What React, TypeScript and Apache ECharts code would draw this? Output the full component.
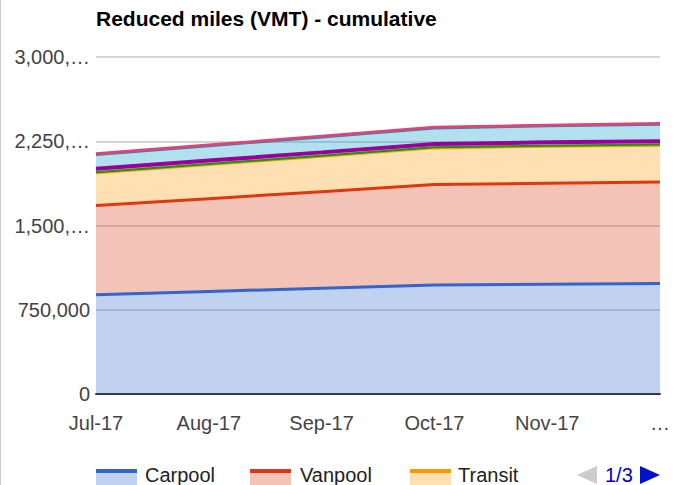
import React, { useEffect, useRef } from "react";
import * as echarts from "echarts";

const categories = ["Jul-17", "Aug-17", "Sep-17", "Oct-17", "Nov-17", "Dec-17"];
const xTickLabels = ["Jul-17", "Aug-17", "Sep-17", "Oct-17", "Nov-17", "…"];
const yTickLabels = ["0", "750,000", "1,500,…", "2,250,…", "3,000,…"];

const seriesNames = ["Carpool", "Vanpool", "Transit", "Bike", "Walk", "Telework", "Compressed"];
const carpool = [884000, 913000, 942000, 971000, 978000, 983000];
const vanpool = [793000, 826000, 859000, 893000, 899000, 904000];
const transit = [293000, 304000, 315000, 327000, 328000, 328000];
const bike = [5000, 5000, 5000, 5000, 5000, 5000];
const walk = [30000, 30000, 30000, 30000, 30000, 30000];
const telework = [127000, 132000, 137000, 142000, 147000, 152000];
const compressed = [6000, 6000, 6000, 6000, 6000, 6000];
const seriesData = [carpool, vanpool, transit, bike, walk, telework, compressed];
const colors = ["#3366cc", "#dc3912", "#ff9900", "#109618", "#990099", "#0099c6", "#dd4477"];
const lineWidths = [3, 3, 3, 2, 4, 3, 3];

const FONT = "'Liberation Sans', Arial, sans-serif";

export default function App() {
  const ref = useRef<HTMLDivElement>(null);
  useEffect(() => {
    if (!ref.current) return;
    const chart = echarts.init(ref.current, undefined, { renderer: "svg" });
    const legendX = [96, 250, 410];
    const legendTextX = [145, 300, 458];
    const legendGraphics: any[] = [];
    for (let i = 0; i < 3; i++) {
      legendGraphics.push({
        type: "rect",
        shape: { x: legendX[i], y: 472, width: 41, height: 14 },
        style: { fill: colors[i], opacity: 0.3 },
      });
      legendGraphics.push({
        type: "rect",
        shape: { x: legendX[i], y: 469, width: 41, height: 4 },
        style: { fill: colors[i] },
      });
      legendGraphics.push({
        type: "text",
        x: legendTextX[i],
        y: 475,
        style: {
          text: seriesNames[i],
          fill: "#222",
          font: `20px ${FONT}`,
          verticalAlign: "middle",
        },
      });
    }
    legendGraphics.push({
      type: "polygon",
      shape: { points: [[577, 475], [597, 466], [597, 484]] },
      style: { fill: "#cccccc" },
    });
    legendGraphics.push({
      type: "text",
      x: 605,
      y: 475,
      style: {
        text: "1/3",
        fill: "#0000cc",
        font: `20px ${FONT}`,
        verticalAlign: "middle",
      },
    });
    legendGraphics.push({
      type: "polygon",
      shape: { points: [[640, 466], [640, 484], [660, 475]] },
      style: { fill: "#0011cc" },
    });
    legendGraphics.push({
      type: "rect",
      shape: { x: 0, y: 0, width: 1, height: 485 },
      style: { fill: "#cccccc" },
    });

    chart.setOption({
      animation: false,
      color: colors,
      title: {
        text: "Reduced miles (VMT) - cumulative",
        left: 96,
        top: 8,
        padding: 0,
        textStyle: { fontFamily: FONT, fontSize: 21, fontWeight: "bold", color: "#000" },
      },
      grid: { left: 96, right: 22, top: 57, bottom: 91, containLabel: false },
      xAxis: {
        type: "category",
        data: categories,
        boundaryGap: false,
        axisTick: { show: false },
        axisLine: { lineStyle: { color: "#333", width: 2 } },
        axisLabel: {
          interval: 0,
          color: "#444",
          fontSize: 20,
          fontFamily: FONT,
          margin: 19,
          formatter: (_v: string, i: number) => xTickLabels[i],
        },
        splitLine: { show: false },
      },
      yAxis: {
        type: "value",
        min: 0,
        max: 3000000,
        interval: 750000,
        axisLine: { show: false },
        axisTick: { show: false },
        axisLabel: {
          color: "#444",
          fontSize: 20,
          fontFamily: FONT,
          margin: 6,
          formatter: (v: number) => yTickLabels[Math.round(v / 750000)],
        },
        splitLine: { lineStyle: { color: "#c6c6c6", width: 1.5 } },
      },
      series: seriesData.map((d, i) => ({
        name: seriesNames[i],
        type: "line",
        stack: "total",
        data: d,
        showSymbol: false,
        symbol: "none",
        lineStyle: { width: lineWidths[i], color: colors[i] },
        areaStyle: { color: colors[i], opacity: 0.3 },
      })),
      graphic: legendGraphics,
    });
    return () => chart.dispose();
  }, []);
  return (
    <div
      ref={ref}
      style={{ position: "fixed", left: 0, top: 0, width: 682, height: 485, background: "#fff" }}
    />
  );
}
